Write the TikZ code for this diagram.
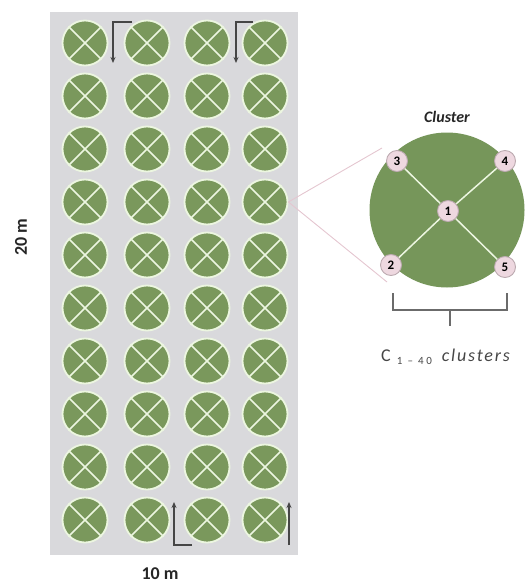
\documentclass[tikz,border=0pt]{standalone}
\usepackage{fontspec}
\setmainfont{Carlito}
\usetikzlibrary{arrows.meta}
\definecolor{bg}{RGB}{217,217,220}
\definecolor{leaf}{RGB}{122,152,92}
\definecolor{bigleaf}{RGB}{118,150,90}
\definecolor{rim}{RGB}{236,246,224}
\definecolor{pinkfill}{RGB}{238,216,224}
\definecolor{pinkline}{RGB}{228,198,208}
\definecolor{darkline}{RGB}{70,70,70}
\tikzset{
  plot/.style={circle, fill=leaf, draw=rim, line width=1.8pt, minimum size=45pt, inner sep=0pt},
  crossline/.style={draw=rim, line width=1.6pt},
  pt/.style={circle, fill=pinkfill, draw=pinkline!60!gray, line width=0.9pt, minimum size=21pt, inner sep=0pt, font=\bfseries\fontsize{13}{13}\selectfont},
  walk/.style={draw=darkline, line width=1.1pt, -{Stealth[length=6pt,width=5pt]}},
  zoomline/.style={draw=pinkline, line width=0.9pt},
  brace/.style={draw=darkline!80, line width=1.2pt},
  dim/.style={font=\bfseries\fontsize{18}{18}\selectfont, text=black!85}
}
\begin{document}
\begin{tikzpicture}[x=1pt,y=-1pt]
\useasboundingbox (0,0) rectangle (526,583);
\fill[bg] (50,12) rectangle (298,555);
% grid of plots
\foreach \r in {1,...,10}{
  \foreach \c/\xx in {1/85,2/147,3/207,4/265}{
    \node[plot] (c-\r-\c) at (\xx,{43+53*(\r-1)}) {};
    \path[crossline] (c-\r-\c.45) -- (c-\r-\c.225) (c-\r-\c.135) -- (c-\r-\c.-45);
  }
}
% walking arrows
\coordinate (a1s) at (132,22); \coordinate (a1k) at (113,22); \coordinate (a1e) at (113,63);
\coordinate (a2s) at (253,22); \coordinate (a2k) at (236,22); \coordinate (a2e) at (236,63);
\coordinate (a3s) at (192,545); \coordinate (a3k) at (174,545); \coordinate (a3e) at (174,502);
\coordinate (a4s) at (289,545); \coordinate (a4e) at (289,502);
\draw[walk] (a1s) -- (a1k) -- (a1e);
\draw[walk] (a2s) -- (a2k) -- (a2e);
\draw[walk] (a3s) -- (a3k) -- (a3e);
\draw[walk] (a4s) -- (a4e);
% dimensions
\node[dim, rotate=90] (h) at (21,237) {20 m};
\node[dim] (w) at (160,574) {10 m};
% cluster detail
\node[circle, fill=bigleaf, minimum size=155pt, inner sep=0pt] (cl) at (447,210) {};
\node[font=\bfseries\itshape\fontsize{16}{16}\selectfont, text=black!85] (cltitle) at (447,117) {Cluster};
\node[pt] (p1) at (448,211) {1};
\node[pt] (p2) at (391,265) {2};
\node[pt] (p3) at (397,161) {3};
\node[pt] (p4) at (505,161) {4};
\node[pt] (p5) at (505,267) {5};
\path[crossline, line width=1.5pt] (p3) -- (p1) (p1) -- (p5) (p4) -- (p1) (p1) -- (p2);
% zoom lines
\coordinate (z1) at (382,148);
\coordinate (z2) at (387,282);
\draw[zoomline] (c-4-4.east) -- (z1);
\draw[zoomline] (c-4-4.east) -- (z2);
% brace
\coordinate (b1) at (393,293); \coordinate (b2) at (393,310);
\coordinate (b3) at (507,310); \coordinate (b4) at (507,293);
\coordinate (bm) at (450,310); \coordinate (bt) at (450,326);
\draw[brace] (b1) -- (b2) -- (b3) -- (b4);
\draw[brace] (bm) -- (bt);
\node[font=\fontsize{18}{18}\selectfont, text=darkline, anchor=west, inner sep=0pt] (lab) at (381,357) {C\hspace{6pt}{\fontsize{11}{11}\selectfont\addfontfeature{LetterSpace=24}\raisebox{-3pt}{1 – 40}}\hspace{10pt}{\itshape\addfontfeature{LetterSpace=10}clusters}};
\end{tikzpicture}
\end{document}
